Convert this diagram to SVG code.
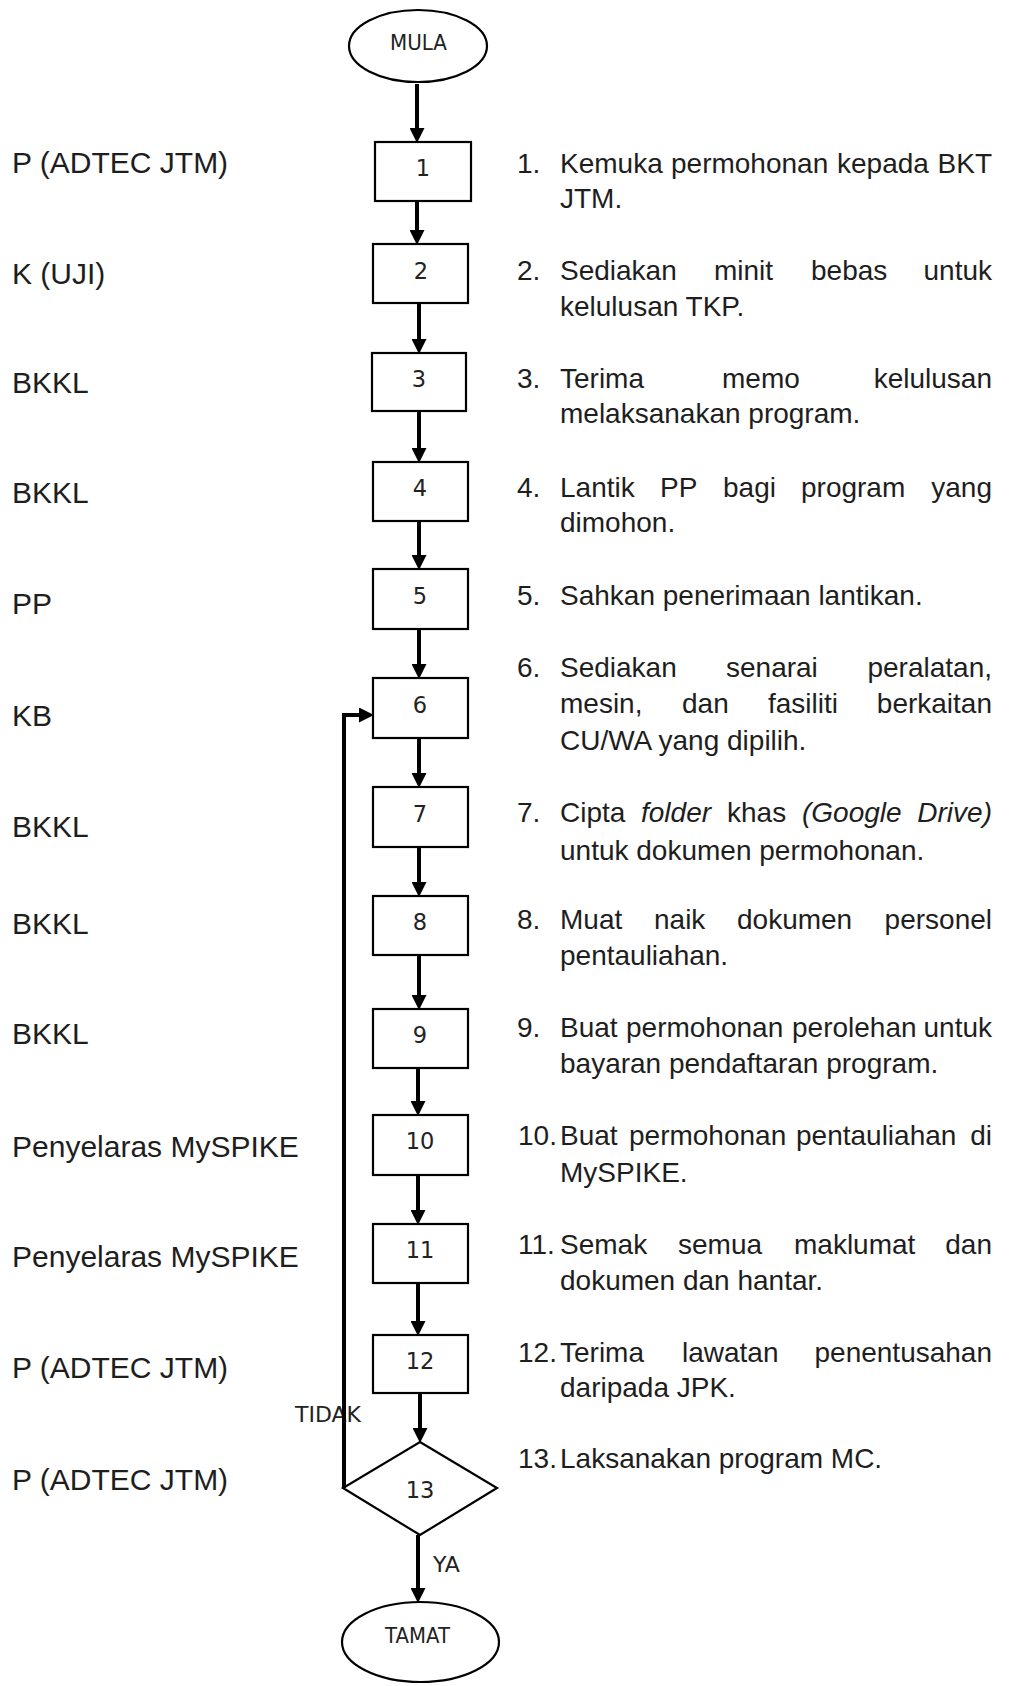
<svg xmlns="http://www.w3.org/2000/svg" width="1032" height="1686" viewBox="0 0 1032 1686">
  <style>
    .lbl { font-family: "Liberation Sans", Arial, sans-serif; font-size: 30px; fill: #1e1e1e; }
    .desc { font-family: "Liberation Sans", Arial, sans-serif; font-size: 28px; fill: #1e1e1e; }
    .end { text-anchor: end; }
    .it { font-style: italic; }
    .num { font-family: "DejaVu Sans", sans-serif; font-size: 22.5px; fill: #222; text-anchor: middle; }
    .term { font-family: "DejaVu Sans", sans-serif; font-size: 21px; fill: #222; }
    .tag { font-family: "DejaVu Sans", sans-serif; font-size: 22px; fill: #222; }
    .shape { fill: #fff; stroke: #000; stroke-width: 2.2; }
    .flow { fill: none; stroke: #000; stroke-width: 4; stroke-linejoin: miter; marker-end: url(#ah); }
  </style>
  <defs>
    <marker id="ah" markerUnits="userSpaceOnUse" markerWidth="15" markerHeight="15" viewBox="0 0 15 15" refX="7" refY="7.5" orient="auto">
      <path d="M0,0 L15,7.5 L0,15 z" fill="#000"/>
    </marker>
  </defs>
  <rect width="1032" height="1686" fill="#fff"/>

  <!-- responsible party column -->
  <g id="roles">
    <text class="lbl" x="12" y="173">P (ADTEC JTM)</text>
    <text class="lbl" x="12" y="284">K (UJI)</text>
    <text class="lbl" x="12" y="393">BKKL</text>
    <text class="lbl" x="12" y="503">BKKL</text>
    <text class="lbl" x="12" y="614">PP</text>
    <text class="lbl" x="12" y="726">KB</text>
    <text class="lbl" x="12" y="837">BKKL</text>
    <text class="lbl" x="12" y="934">BKKL</text>
    <text class="lbl" x="12" y="1044">BKKL</text>
    <text class="lbl" x="12" y="1157">Penyelaras MySPIKE</text>
    <text class="lbl" x="12" y="1267">Penyelaras MySPIKE</text>
    <text class="lbl" x="12" y="1378">P (ADTEC JTM)</text>
    <text class="lbl" x="12" y="1490">P (ADTEC JTM)</text>
  </g>

  <!-- branch labels (drawn under the connectors) -->
  <text class="tag" x="295" y="1422">TIDAK</text>
  <text class="tag" x="433" y="1572">YA</text>

  <!-- flow nodes -->
  <g id="start">
    <ellipse class="shape" cx="418" cy="46" rx="69" ry="36"/>
    <text class="term" x="390" y="50" textLength="57" lengthAdjust="spacingAndGlyphs">MULA</text>
  </g>
  <g id="step1"><rect class="shape" x="375" y="142" width="96" height="59"/><text class="num" x="423" y="176">1</text></g>
  <g id="step2"><rect class="shape" x="373" y="244" width="95" height="59"/><text class="num" x="421" y="279">2</text></g>
  <g id="step3"><rect class="shape" x="372" y="353" width="94" height="58"/><text class="num" x="419" y="387">3</text></g>
  <g id="step4"><rect class="shape" x="373" y="462" width="95" height="59"/><text class="num" x="420" y="496">4</text></g>
  <g id="step5"><rect class="shape" x="373" y="569" width="95" height="60"/><text class="num" x="420" y="604">5</text></g>
  <g id="step6"><rect class="shape" x="373" y="678" width="95" height="60"/><text class="num" x="420" y="713">6</text></g>
  <g id="step7"><rect class="shape" x="373" y="787" width="95" height="60"/><text class="num" x="420" y="822">7</text></g>
  <g id="step8"><rect class="shape" x="373" y="896" width="95" height="59"/><text class="num" x="420" y="930">8</text></g>
  <g id="step9"><rect class="shape" x="373" y="1009" width="95" height="59"/><text class="num" x="420" y="1043">9</text></g>
  <g id="step10"><rect class="shape" x="373" y="1115" width="95" height="60"/><text class="num" x="420" y="1149">10</text></g>
  <g id="step11"><rect class="shape" x="373" y="1224" width="95" height="59"/><text class="num" x="420" y="1258">11</text></g>
  <g id="step12"><rect class="shape" x="373" y="1335" width="95" height="58"/><text class="num" x="420" y="1369">12</text></g>
  <g id="step13">
    <polygon class="shape" points="420,1442 497,1488 420,1535 343,1488"/>
    <text class="num" x="420" y="1498">13</text>
  </g>
  <g id="end">
    <ellipse class="shape" cx="420.5" cy="1642" rx="78.5" ry="40"/>
    <text class="term" x="385" y="1643" textLength="65" lengthAdjust="spacingAndGlyphs">TAMAT</text>
  </g>

  <!-- connectors -->
  <g id="connectors">
    <line class="flow" x1="417" y1="84" x2="417" y2="135"/>
    <line class="flow" x1="417" y1="201" x2="417" y2="237"/>
    <line class="flow" x1="419" y1="303" x2="419" y2="346"/>
    <line class="flow" x1="419" y1="411" x2="419" y2="455"/>
    <line class="flow" x1="419" y1="521" x2="419" y2="562"/>
    <line class="flow" x1="419" y1="629" x2="419" y2="671"/>
    <line class="flow" x1="419" y1="738" x2="419" y2="780"/>
    <line class="flow" x1="419" y1="847" x2="419" y2="889"/>
    <line class="flow" x1="419" y1="955" x2="419" y2="1002"/>
    <line class="flow" x1="418" y1="1068" x2="418" y2="1108"/>
    <line class="flow" x1="418" y1="1175" x2="418" y2="1217"/>
    <line class="flow" x1="418" y1="1283" x2="418" y2="1328"/>
    <line class="flow" x1="420" y1="1393" x2="420" y2="1435"/>
    <line class="flow" x1="418" y1="1535" x2="418" y2="1595"/>
    <path class="flow" d="M344,1488 V715 H366"/>
  </g>

  <!-- step descriptions -->
  <g id="steps">
    <text class="desc" y="173"><tspan x="517">1.</tspan><tspan x="560">Kemuka</tspan><tspan x="671">permohonan</tspan><tspan x="837">kepada</tspan><tspan class="end" x="992">BKT</tspan></text>
    <text class="desc" x="560" y="208">JTM.</text>

    <text class="desc" y="280"><tspan x="517">2.</tspan><tspan x="560">Sediakan</tspan><tspan x="714">minit</tspan><tspan x="811">bebas</tspan><tspan class="end" x="992">untuk</tspan></text>
    <text class="desc" x="560" y="316">kelulusan TKP.</text>

    <text class="desc" y="388"><tspan x="517">3.</tspan><tspan x="560">Terima</tspan><tspan x="722">memo</tspan><tspan class="end" x="992">kelulusan</tspan></text>
    <text class="desc" x="560" y="423">melaksanakan program.</text>

    <text class="desc" y="497"><tspan x="517">4.</tspan><tspan x="560">Lantik</tspan><tspan x="660">PP</tspan><tspan x="723">bagi</tspan><tspan x="801">program</tspan><tspan class="end" x="992">yang</tspan></text>
    <text class="desc" x="560" y="532">dimohon.</text>

    <text class="desc" y="605"><tspan x="517">5.</tspan><tspan x="560">Sahkan penerimaan lantikan.</tspan></text>

    <text class="desc" y="677"><tspan x="517">6.</tspan><tspan x="560">Sediakan</tspan><tspan x="726">senarai</tspan><tspan class="end" x="992">peralatan,</tspan></text>
    <text class="desc" y="713"><tspan x="560">mesin,</tspan><tspan x="682">dan</tspan><tspan x="768">fasiliti</tspan><tspan class="end" x="992">berkaitan</tspan></text>
    <text class="desc" x="560" y="750">CU/WA yang dipilih.</text>

    <text class="desc" y="822"><tspan x="517">7.</tspan><tspan x="560">Cipta</tspan><tspan class="it" x="641">folder</tspan><tspan x="727">khas</tspan><tspan class="it" x="802">(Google</tspan><tspan class="it end" x="992">Drive)</tspan></text>
    <text class="desc" x="560" y="860">untuk dokumen permohonan.</text>

    <text class="desc" y="929"><tspan x="517">8.</tspan><tspan x="560">Muat</tspan><tspan x="654">naik</tspan><tspan x="737">dokumen</tspan><tspan class="end" x="992">personel</tspan></text>
    <text class="desc" x="560" y="965">pentauliahan.</text>

    <text class="desc" y="1037"><tspan x="517">9.</tspan><tspan x="560">Buat</tspan><tspan x="626">permohonan</tspan><tspan x="792">perolehan</tspan><tspan class="end" x="992">untuk</tspan></text>
    <text class="desc" x="560" y="1073">bayaran pendaftaran program.</text>

    <text class="desc" y="1145"><tspan x="518">10.</tspan><tspan x="560">Buat</tspan><tspan x="629">permohonan</tspan><tspan x="796">pentauliahan</tspan><tspan class="end" x="992">di</tspan></text>
    <text class="desc" x="560" y="1182">MySPIKE.</text>

    <text class="desc" y="1254"><tspan x="518">11.</tspan><tspan x="560">Semak</tspan><tspan x="678">semua</tspan><tspan x="794">maklumat</tspan><tspan class="end" x="992">dan</tspan></text>
    <text class="desc" x="560" y="1290">dokumen dan hantar.</text>

    <text class="desc" y="1362"><tspan x="518">12.</tspan><tspan x="560">Terima</tspan><tspan x="682">lawatan</tspan><tspan class="end" x="992">penentusahan</tspan></text>
    <text class="desc" x="560" y="1397">daripada JPK.</text>

    <text class="desc" y="1468"><tspan x="518">13.</tspan><tspan x="560">Laksanakan program MC.</tspan></text>
  </g>
</svg>
